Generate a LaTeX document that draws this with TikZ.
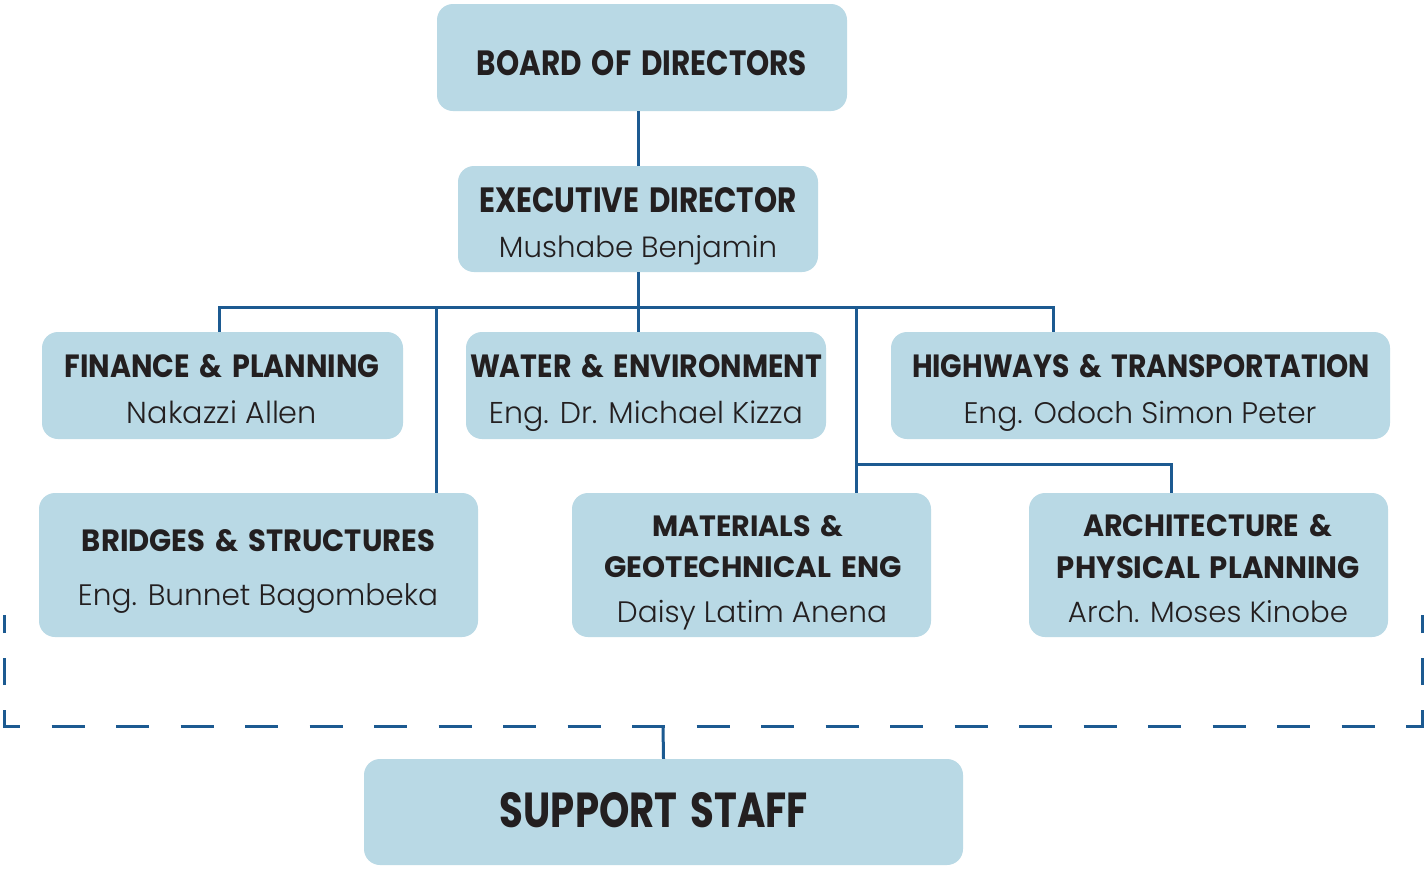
\documentclass[tikz,border=0pt]{standalone}
\usepackage{fontspec}
\usepackage{graphicx}
\setmainfont{Poppins}[WordSpace=1.6]
\IfFontExistsTF{Poppins Light}{\newfontfamily\namefont{Poppins Light}}{\newfontfamily\namefont{Poppins}}
\definecolor{boxfill}{HTML}{B9D9E5}
\definecolor{linec}{HTML}{1C5A91}
\definecolor{txt}{HTML}{231F20}
\newcommand{\hd}[3]{\resizebox{#1pt}{#2pt}{\bfseries #3}}
\newcommand{\nm}[2]{\resizebox{#1pt}{!}{\namefont #2}}
\tikzset{
  orgbox/.style={fill=boxfill, draw=none, rounded corners=16pt, inner sep=0pt},
  lbl/.style={anchor=base, inner sep=0pt, text=txt},
  conn/.style={draw=linec, line width=3pt, line join=miter},
  dashline/.style={draw=linec, line width=3pt}
}
\begin{document}
\begin{tikzpicture}[x=1pt, y=-1pt]
\path[use as bounding box, fill=white] (0,0) rectangle (1426,868);

% connector coordinates
\coordinate (busL) at (219,307);
\coordinate (busR) at (1053,307);
\coordinate (bB) at (436,307);
\coordinate (bM) at (856,307);
\coordinate (sA) at (1171,464);
\coordinate (dl) at (4,726);
\coordinate (dr) at (1422,726);
\coordinate (sbr) at (663,726);

% boxes
\node[orgbox, minimum width=410pt, minimum height=107pt] (board) at (642,57.5) {};
\node[orgbox, minimum width=360pt, minimum height=106pt] (exec) at (638,219) {};
\node[orgbox, minimum width=361pt, minimum height=107pt] (fin) at (222.5,385.5) {};
\node[orgbox, minimum width=360pt, minimum height=107pt] (water) at (646,385.5) {};
\node[orgbox, minimum width=499pt, minimum height=107pt] (hwy) at (1140.5,385.5) {};
\node[orgbox, minimum width=439pt, minimum height=144pt] (bridges) at (258.5,565) {};
\node[orgbox, minimum width=359pt, minimum height=144pt] (mat) at (751.5,565) {};
\node[orgbox, minimum width=359pt, minimum height=144pt] (arch) at (1208.5,565) {};
\node[orgbox, minimum width=599pt, minimum height=106pt] (support) at (663.5,812) {};

% connectors
\draw[conn] (exec.north |- board.south) -- (exec.north);
\draw[conn] (exec.south) -- (exec.south |- busL);
\draw[conn] (busL |- fin.north) -- (busL) -- (busR) -- (busR |- hwy.north);
\draw[conn] (exec.south |- busL) -- (exec.south |- water.north);
\draw[conn] (bB) -- (bB |- bridges.north);
\draw[conn] (bM) -- (bM |- mat.north);
\draw[conn] (bM |- sA) -- (sA) -- (sA |- arch.north);

% dashed bracket
\draw[dashline, dash pattern=on 33pt off 31.5pt, dash phase=17pt] (dl) -- (dr);
\draw[dashline, dash pattern=on 27pt off 25pt, dash phase=9.5pt] ([yshift=-1.5pt]dl) -- (4,615);
\draw[dashline, dash pattern=on 27pt off 25pt, dash phase=9.5pt] ([yshift=-1.5pt]dr) -- (1422,615);
\draw[conn] (sbr) -- (support.north);

% texts
\node[lbl] (tboard) at (642,75) {\hd{330}{25}{BOARD OF DIRECTORS}};
\node[lbl] (texec) at (638,212) {\hd{317}{25}{EXECUTIVE DIRECTOR}};
\node[lbl] (nexec) at (638,257) {\nm{278}{Mushabe Benjamin}};
\node[lbl] (tfin) at (222,377) {\hd{315}{23}{FINANCE \& PLANNING}};
\node[lbl] (nfin) at (222,423) {\nm{190}{Nakazzi Allen}};
\node[lbl] (twater) at (646,377) {\hd{352}{23}{WATER \& ENVIRONMENT}};
\node[lbl] (nwater) at (646,423) {\nm{314}{Eng. Dr. Michael Kizza}};
\node[lbl] (thwy) at (1141,377) {\hd{458}{23}{HIGHWAYS \& TRANSPORTATION}};
\node[lbl] (nhwy) at (1140,423) {\nm{353}{Eng. Odoch Simon Peter}};
\node[lbl] (tbridges) at (258.5,551) {\hd{353}{22}{BRIDGES \& STRUCTURES}};
\node[lbl] (nbridges) at (258,605) {\nm{360}{Eng. Bunnet Bagombeka}};
\node[lbl] (tmat1) at (748,536) {\hd{191}{21}{MATERIALS \&}};
\node[lbl] (tmat2) at (753,577) {\hd{297}{21}{GEOTECHNICAL ENG}};
\node[lbl] (nmat) at (752,622) {\nm{270}{Daisy Latim Anena}};
\node[lbl] (tarch1) at (1207.5,536) {\hd{249}{22}{ARCHITECTURE \&}};
\node[lbl] (tarch2) at (1208.5,578) {\hd{303}{22}{PHYSICAL PLANNING}};
\node[lbl] (narch) at (1208,622) {\nm{280}{Arch. Moses Kinobe}};
\node[lbl] (tsupport) at (654,827) {\hd{308}{35}{SUPPORT STAFF}};
\end{tikzpicture}
\end{document}
